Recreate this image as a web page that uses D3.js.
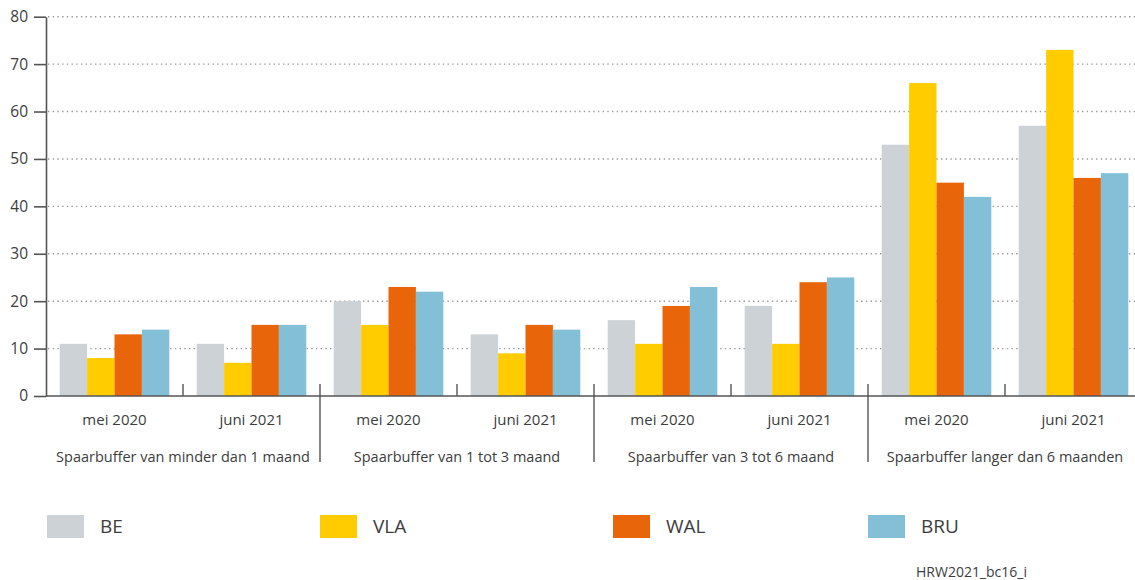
<!DOCTYPE html>
<html>
<head>
<meta charset="utf-8">
<script src="https://cdn.jsdelivr.net/npm/d3@7"></script>
<style>
  body { margin: 0; background: #fff; }
  svg { display: block; font-family: "Open Sans", "Noto Sans", sans-serif; }
</style>
</head>
<body>
<div id="chart"></div>
<script>
// data
const groups = [
  "Spaarbuffer van minder dan 1 maand",
  "Spaarbuffer van 1 tot 3 maand",
  "Spaarbuffer van 3 tot 6 maand",
  "Spaarbuffer langer dan 6 maanden"
];
const periods = ["mei 2020", "juni 2021"];
const series = ["BE", "VLA", "WAL", "BRU"];
// one value per group x period, in order
const valuesBE  = [11, 11, 20, 13, 16, 19, 53, 57];
const valuesVLA = [8, 7, 15, 9, 11, 11, 66, 73];
const valuesWAL = [13, 15, 23, 15, 19, 24, 45, 46];
const valuesBRU = [14, 15, 22, 14, 23, 25, 42, 47];
const yTicks = [0, 10, 20, 30, 40, 50, 60, 70, 80];
const footnote = "HRW2021_bc16_i";

const colors = ["#cdd2d6", "#ffcc00", "#e8650a", "#83c0d8"];
const seriesValues = [valuesBE, valuesVLA, valuesWAL, valuesBRU];

// layout
const width = 1135, height = 580;
const left = 46, step = 137;
const textColor = "#3d3d3d";
const axisColor = "#555";

const svg = d3.select("#chart").append("svg")
    .attr("width", width)
    .attr("height", height);

// build the slots (group x period)
const slots = [];
groups.forEach((g, gi) => {
  periods.forEach((p, pi) => {
    slots.push({ group: g, period: p, index: gi * periods.length + pi });
  });
});

const x0 = d3.scaleBand()
    .domain(slots.map(d => d.index))
    .range([left, left + slots.length * step])
    .padding(0);

const x1 = d3.scaleBand()
    .domain(series)
    .range([0, x0.bandwidth()])
    .paddingInner(0)
    .paddingOuter(0.5);

const y = d3.scaleLinear()
    .domain([0, 80])
    .range([396, 16.7]);

// dotted gridlines
svg.append("g")
  .selectAll("line")
  .data(yTicks.filter(t => t > 0))
  .enter()
  .append("line")
    .attr("x1", left + 2)
    .attr("x2", width)
    .attr("y1", d => y(d))
    .attr("y2", d => y(d))
    .attr("stroke", "#9a9a9a")
    .attr("stroke-width", 1.4)
    .attr("stroke-dasharray", "1.4,3.3");

// bars
const slotG = svg.append("g")
  .selectAll("g")
  .data(slots)
  .enter()
  .append("g")
    .attr("transform", d => `translate(${x0(d.index)},0)`);

slotG.selectAll("rect")
  .data(d => series.map((s, si) => ({ s, si, v: seriesValues[si][d.index] })))
  .enter()
  .append("rect")
    .attr("x", d => x1(d.s))
    .attr("width", x1.bandwidth())
    .attr("y", d => y(d.v))
    .attr("height", d => y(0) - y(d.v))
    .attr("fill", d => colors[d.si]);

// y axis
const yAxis = svg.append("g")
    .attr("transform", `translate(${left},0)`)
    .call(d3.axisLeft(y).tickValues(yTicks).tickSize(12).tickPadding(6).tickSizeOuter(0));
yAxis.select(".domain").attr("stroke", axisColor).attr("stroke-width", 1.6);
yAxis.selectAll(".tick line").attr("stroke", axisColor).attr("stroke-width", 1.6);
yAxis.selectAll(".tick text")
    .attr("fill", textColor)
    .style("font-size", "15.5px")
    .style("font-family", "'Open Sans', 'Noto Sans', sans-serif");

// baseline
svg.append("line")
    .attr("x1", left)
    .attr("x2", x0.range()[1])
    .attr("y1", y(0))
    .attr("y2", y(0))
    .attr("stroke", axisColor)
    .attr("stroke-width", 1.6);

// dividers between periods (short) and groups (long)
svg.append("g")
  .selectAll("line")
  .data(slots.filter(d => d.index > 0))
  .enter()
  .append("line")
    .attr("x1", d => x0(d.index))
    .attr("x2", d => x0(d.index))
    .attr("y1", y(0) - 12)
    .attr("y2", d => d.index % periods.length === 0 ? 462 : y(0))
    .attr("stroke", axisColor)
    .attr("stroke-width", 1.4);

// period labels
svg.append("g")
  .selectAll("text")
  .data(slots)
  .enter()
  .append("text")
    .attr("x", d => x0(d.index) + x0.bandwidth() / 2)
    .attr("y", 420)
    .attr("dy", "0.35em")
    .attr("text-anchor", "middle")
    .attr("fill", textColor)
    .style("font-size", "15px")
    .text(d => d.period);

// group labels
svg.append("g")
  .selectAll("text")
  .data(groups)
  .enter()
  .append("text")
    .attr("x", (d, i) => x0(i * periods.length + 1))
    .attr("y", 457)
    .attr("dy", "0.35em")
    .attr("text-anchor", "middle")
    .attr("fill", textColor)
    .style("font-size", "14.5px")
    .text(d => d);

// legend
const legendX = [47, 320, 613, 868];
const legend = svg.append("g")
  .selectAll("g")
  .data(series)
  .enter()
  .append("g")
    .attr("transform", (d, i) => `translate(${legendX[i]},515)`);

legend.append("rect")
    .attr("width", 37)
    .attr("height", 23)
    .attr("fill", (d, i) => colors[i]);

legend.append("text")
    .attr("x", 53)
    .attr("y", 11.5)
    .attr("dy", "0.35em")
    .attr("fill", textColor)
    .style("font-size", "19px")
    .text(d => d);

// source code
svg.append("text")
    .attr("x", 916)
    .attr("y", 572)
    .attr("dy", "0.35em")
    .attr("fill", textColor)
    .style("font-size", "14px")
    .text(footnote);
</script>
</body>
</html>
